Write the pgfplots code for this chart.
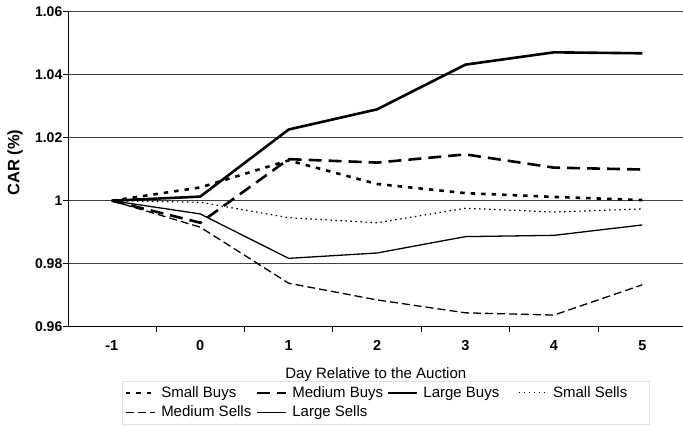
\documentclass[border=0pt]{standalone}
\usepackage{fontspec}
\setmainfont{Liberation Sans}
\usepackage{pgfplots}
\pgfplotsset{compat=1.18}
\newcommand{\legtxt}[1]{\makebox[93pt][l]{#1}}
\begin{document}
\begin{tikzpicture}
\begin{axis}[
  scale only axis, width=614.5pt, height=315pt,
  xmin=-1.49, xmax=5.46, ymin=0.96, ymax=1.06,
  axis x line*=bottom, axis y line*=left,
  axis line style={black, line width=0.8pt, -},
  xtick={-1,0,1,2,3,4,5}, xticklabels={-1,0,1,2,3,4,5},
  minor xtick={-0.5,0.5,1.5,2.5,3.5,4.5},
  major x tick style={draw=none},
  minor x tick style={black, line width=0.8pt},
  major y tick style={black, line width=0.8pt},
  minor tick length=5pt, major tick length=5pt, tick align=outside,
  ytick={0.96,0.98,1,1.02,1.04,1.06}, yticklabels={0.96,0.98,1,1.02,1.04,1.06},
  ymajorgrids, grid style={black!75, line width=0.7pt},
  xticklabel style={font=\fontsize{14.5}{16}\selectfont\bfseries, yshift=-5pt},
  yticklabel style={font=\fontsize{14}{16}\selectfont\bfseries, inner sep=1pt},
  xlabel={Day Relative to the Auction},
  xlabel style={font=\fontsize{15}{17}\selectfont, at={(axis description cs:0.5,-0.166)}, anchor=base},
  ylabel={CAR (\%)},
  ylabel style={font=\fontsize{16.5}{18}\selectfont\bfseries, at={(axis description cs:-0.087,0.521)}, anchor=center},
  legend columns=4,
  legend cell align=left,
  legend image code/.code={\draw[#1] (0pt,0pt) -- (29pt,0pt);},
  legend style={at={(axis description cs:0.0878,-0.172)}, anchor=north west,
    draw=gray!25, line width=0.4pt, inner sep=2pt,
    font=\fontsize{15}{17}\selectfont,
    nodes={inner sep=1.5pt, text height=12.5pt, text depth=4pt},
    /tikz/every odd column/.append style={column sep=3.5pt},
    /tikz/every even column/.append style={column sep=0pt},
    row sep=0pt},
]
\addplot[black, line width=2.6pt, dash pattern=on 4.5pt off 6pt] coordinates {(-1,1) (0,1.0042) (1,1.0128) (2,1.0053) (3,1.0024) (4,1.0012) (5,1.0002)};
\addlegendentry{\legtxt{Small Buys}}
\addplot[black, line width=2.6pt, dash pattern=on 13pt off 7pt] coordinates {(-1,1) (0,0.9930) (1,1.0132) (2,1.0121) (3,1.0147) (4,1.0105) (5,1.0099)};
\addlegendentry{\legtxt{Medium Buys}}
\addplot[black, line width=2.6pt, line join=round] coordinates {(-1,1) (0,1.0013) (1,1.0226) (2,1.0290) (3,1.0432) (4,1.0471) (5,1.0468)};
\addlegendentry{\legtxt{Large Buys}}
\addplot[black, line width=1.2pt, dash pattern=on 1.5pt off 3.5pt] coordinates {(-1,1) (0,0.9995) (1,0.9946) (2,0.9930) (3,0.9976) (4,0.9964) (5,0.9974)};
\addlegendentry{\legtxt{Small Sells}}
\addplot[black, line width=1.3pt, dash pattern=on 8pt off 4pt] coordinates {(-1,1) (0,0.9916) (1,0.9738) (2,0.9685) (3,0.9644) (4,0.9637) (5,0.9733)};
\addlegendentry{\legtxt{Medium Sells}}
\addplot[black, line width=1.3pt, line join=round] coordinates {(-1,1) (0,0.9958) (1,0.9817) (2,0.9834) (3,0.9886) (4,0.9890) (5,0.9923)};
\addlegendentry{\legtxt{Large Sells}}
\coordinate (bl) at (rel axis cs:0,0);
\coordinate (tr) at (rel axis cs:1,1);
\end{axis}
\pgfresetboundingbox
\path ([xshift=-68.5pt,yshift=-99.3pt]bl) rectangle ([yshift=11.7pt]tr);
\end{tikzpicture}
\end{document}
